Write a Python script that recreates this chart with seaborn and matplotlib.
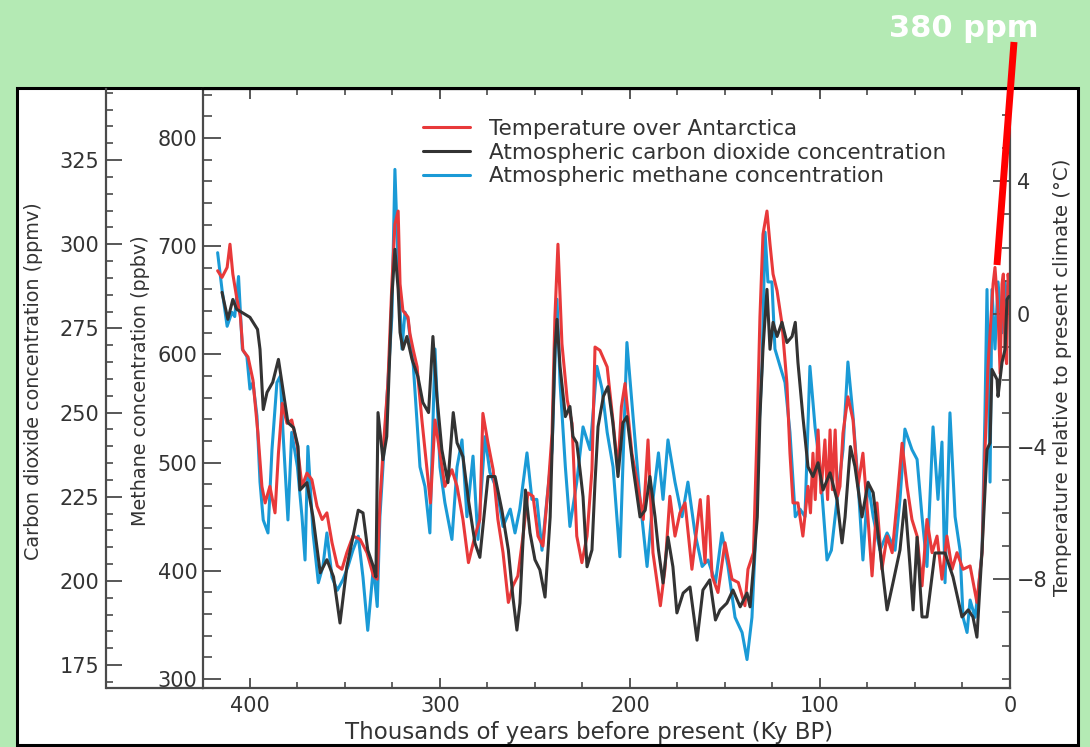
import matplotlib
matplotlib.use("Agg")
import matplotlib.pyplot as plt
import seaborn as sns
import pandas as pd
from matplotlib.patches import Rectangle
from matplotlib.lines import Line2D
from matplotlib.ticker import MultipleLocator

# ---------------- data ----------------
temp_age = [417, 414.7, 412, 410.5, 409, 407, 405, 403.7, 401, 398.4, 395.8, 393.7, 392, 389.5, 386.8,
            385, 383, 380.5, 378, 375, 372.6, 370, 367.4, 364.7, 362, 359.5, 356.8, 354, 351.6, 349,
            345.8, 342, 338.4, 335, 333, 331.6, 330, 327.4, 325.3, 323.7, 322, 321, 319.5, 316.8, 315.8,
            314, 312, 311.6, 309.5, 306.8, 305, 302.6, 300, 297.4, 293.7, 291, 287.9, 285, 281.6, 279,
            277.4, 274.7, 272, 269.5, 266.8, 264, 261.6, 259, 256.3, 253.7, 251, 248.4, 245.8, 243, 241,
            239.5, 237.9, 235.8, 233, 230.5, 228, 225.3, 222.6, 220, 218.4, 215.8, 212, 209, 206.3, 204.5,
            202.6, 199, 195.8, 193, 190.5, 187.9, 184, 181.6, 179, 176.3, 173.7, 171, 167.4, 163, 160.5,
            158.9, 156.8, 153.7, 150, 146.3, 143, 139.5, 137.9, 135, 133, 131.6, 130, 127.9, 126.3, 124.7,
            122.6, 120, 117.4, 115.8, 114.2, 111.6, 109, 106.3, 105, 103.7, 102.5, 101, 99.5, 97.4, 96,
            94.7, 93.5, 92, 90.8, 89.5, 87.9, 85.3, 82.6, 80, 77.4, 74.7, 72.6, 70, 67.4, 64.7, 62, 59.5,
            56.8, 54.2, 51.6, 48.9, 46.3, 43.7, 41, 38.4, 35.8, 33.2, 30.5, 27.9, 24.7, 21, 17.4, 14.7,
            13.2, 11.6, 8.9, 7.9, 6.3, 5.2, 4.2, 3.5, 2.6, 1.8, 1.0, 0.3]
temp_val = [1.3, 1.1, 1.4, 2.1, 1.2, 0.5, -0.1, -1.1, -1.3, -2.0, -3.6, -5.2, -5.7, -5.2, -6.0,
            -4.2, -2.7, -3.3, -3.2, -4.0, -5.2, -4.8, -5.0, -5.8, -6.2, -6.0, -6.9, -7.6, -7.7, -7.2,
            -6.7, -6.8, -7.2, -7.9, -8.0, -5.7, -4.2, -2.1, 0.9, 2.7, 3.1, 0.9, 0.1, -0.1, -0.6,
            -1.1, -1.6, -1.9, -3.2, -4.7, -5.7, -3.2, -4.2, -5.2, -4.7, -5.2, -6.2, -7.5, -6.7, -6.2,
            -3.0, -3.9, -4.7, -6.2, -7.2, -8.7, -8.2, -7.9, -6.7, -5.4, -5.5, -6.7, -7.0, -5.2, -3.6,
            -0.1, 2.1, -0.9, -2.6, -3.3, -6.7, -7.5, -6.7, -4.7, -1.0, -1.1, -1.6, -3.2, -4.7, -2.8,
            -2.1, -4.2, -5.2, -6.2, -3.8, -7.2, -8.8, -7.7, -5.5, -6.7, -6.0, -5.7, -7.7, -5.6, -7.5,
            -5.5, -7.9, -8.4, -6.9, -8.0, -8.1, -8.8, -7.7, -7.2, -3.3, -0.1, 2.4, 3.1, 2.1, 1.2,
            0.7, -0.3, -2.1, -4.2, -5.7, -5.7, -6.7, -5.2, -6.0, -4.2, -5.6, -3.5, -5.4, -3.8, -5.6,
            -3.5, -5.3, -3.5, -5.5, -5.2, -3.6, -2.5, -3.2, -5.2, -4.2, -6.2, -7.9, -5.7, -7.7, -6.7, -7.2, -5.7,
            -3.9, -5.2, -6.2, -6.7, -8.2, -6.2, -7.2, -6.7, -8.0, -6.7, -7.7, -7.2, -7.7, -7.6, -8.7, -7.2,
            -4.2, -1.6, 0.9, 1.4, 0.1, -1.8, 0.9, 1.2, -1.1, -1.5, 1.2, 0.8]

co2_age = [414.7, 411.6, 409, 407, 400, 396, 394.7, 393, 391, 388, 385, 382.6, 380, 377, 374.7,
           373.7, 370, 366.8, 363, 359.5, 356, 352.6, 349, 345.8, 343, 340.5, 338, 335, 333.7, 332.6,
           330, 328, 325.3, 323.7, 322, 321, 319.5, 317.4, 314.7, 311.6, 309, 306, 303.7, 301.6, 299,
           295.8, 293, 291, 287.9, 285, 281.6, 279, 274.7, 271, 267.4, 264, 261.6, 259.5, 257.9, 255,
           252.6, 250, 247.4, 244.7, 242, 239.5, 238.4, 236.8, 234, 231.6, 230, 228, 226.3, 224.7, 222.6,
           220, 218.4, 216.8, 214, 211.6, 209, 206.3, 203.7, 201.6, 198.4, 194.7, 192, 189.5, 186.8, 185,
           182.6, 180, 177.4, 175.3, 172, 168.4, 164.7, 161.6, 158, 155, 152.6, 149, 145.8, 142, 138.4,
           136.8, 135, 133, 131.6, 130, 127.9, 126.3, 124.7, 122.6, 120, 117.4, 114.7, 113, 111.6, 109,
           106.3, 103.7, 101, 98.4, 94.7, 91, 88.4, 86.8, 84, 81.6, 77.9, 74.7, 72, 68.4, 64.7, 61.6,
           57.9, 55.3, 52.6, 51, 48.9, 46.3, 43.7, 39.5, 34.2, 30, 25.3, 22, 19.5, 17.4, 14.7, 12.1,
           10.5, 9.5, 6.8, 6.3, 4.2, 2.6, 1.6, 0.5]
co2_val = [285.7, 277.7, 283.6, 280.7, 278.3, 274.7, 268.8, 250.9, 256, 259, 265.8, 256.8, 247, 245.5, 239.9,
           227, 229.2, 219, 202.4, 206.3, 201.2, 187.5, 204.2, 213, 221, 220.2, 209.2, 204.2, 201.2, 250,
           236, 242.9, 284.5, 298.5, 286.6, 273.8, 268.8, 272.6, 265.8, 260.7, 253, 250, 272.6, 254.8, 239,
           229.2, 250, 241, 236.9, 224, 211.3, 207, 231, 231, 221, 209.2, 195.2, 185.4, 193.4, 227,
           214.3, 206.3, 203.3, 195.2, 219, 268.8, 277.7, 263.7, 248.8, 251.8, 242.9, 241, 233, 225, 204.2,
           209.2, 229.2, 245.8, 254.8, 257.7, 247, 231, 247, 248.8, 233.9, 219, 221, 231, 219, 209.2,
           199.4, 213, 204.2, 190.5, 196.4, 198.2, 182.4, 197.3, 200.3, 188.4, 191.4, 193.4, 197.3, 192.3, 196.4,
           192.3, 204.2, 219, 248.8, 268.8, 286.6, 268.8, 276.8, 272.6, 276.8, 270.8, 272.6, 276.8, 264.9, 248.8,
           233.9, 231, 235.1, 227, 232.1, 224, 211.3, 219, 239.9, 234, 219, 229.2, 226.2, 209.2, 191.4, 199.4,
           209.2, 224, 204.2, 191.4, 213, 189.3, 189.3, 208.3, 208.3, 201.2, 189.3, 191.4, 189.3, 183.3, 209.2, 239,
           241, 262.8, 259.8, 254.8, 264.9, 268.8, 283.6, 284.5]

ch4_age = [417, 414.7, 412, 409.5, 408, 406, 404, 401.6, 400, 398.4, 396.3, 394.7, 393, 390.5, 388.4,
           385.8, 384, 382.6, 380, 378, 375, 372.6, 371, 369.5, 366.8, 364, 361.6, 359.5, 356.8, 354,
           351, 348.4, 345.8, 343, 340.5, 338, 335, 333, 331.6, 330, 327.4, 325.3, 323.7, 322, 320,
           318.4, 316.8, 314, 310.5, 307.9, 305.3, 302.6, 300, 297.4, 293.7, 291, 288.4, 285.8, 282.6, 280,
           276.3, 273.7, 270, 266.8, 263, 260.5, 258, 254.2, 251.6, 249, 246.3, 243.7, 241, 238.4, 236.8,
           234, 231.6, 228, 224.7, 221, 217.4, 214.7, 212, 208.9, 205.3, 201.6, 198.4, 194.7, 191, 187.9,
           185, 182.6, 180, 176.3, 172.6, 169.5, 165.8, 162, 158.9, 155, 151.6, 148.4, 144.7, 141, 138.4,
           135.8, 134.2, 132.6, 130.5, 128.9, 127.4, 125.3, 123.7, 121, 118.4, 115.8, 113, 110.5, 107.9, 105.3,
           102.6, 100, 96.3, 94, 91, 87.9, 85.3, 82.6, 80, 77.4, 74.7, 72, 68.4, 64.7, 60.5,
           57.9, 55.3, 51.6, 48.9, 46.3, 43.7, 40.5, 37.9, 35.8, 34.2, 31.6, 28.9, 26.3, 24.7, 22.6,
           21, 18.4, 16.8, 14.7, 13.2, 12.1, 10.5, 9.5, 7.9, 6.3, 4.2, 2.6, 1.0]
ch4_val = [694, 660, 626, 639, 635, 672, 605, 598, 568, 574, 543, 482, 447, 435, 512,
           574, 580, 528, 447, 528, 496, 450, 410, 515, 435, 389, 404, 435, 394, 382,
           392, 404, 419, 432, 394, 345, 404, 367, 450, 496, 574, 635, 771, 682, 605,
           639, 632, 589, 496, 478, 435, 605, 496, 463, 429, 496, 521, 450, 506, 429,
           524, 491, 475, 441, 457, 435, 457, 509, 466, 466, 419, 466, 512, 651, 574,
           496, 441, 482, 533, 512, 589, 568, 528, 496, 413, 611, 543, 466, 404, 466,
           509, 466, 521, 482, 450, 482, 435, 404, 410, 389, 435, 404, 357, 343, 318,
           357, 419, 512, 589, 713, 667, 667, 605, 589, 574, 528, 450, 457, 450, 589,
           533, 496, 410, 419, 466, 512, 593, 543, 482, 410, 482, 450, 419, 435, 419,
           466, 531, 512, 503, 450, 404, 533, 466, 519, 389, 546, 450, 419, 357, 343,
           373, 357, 380, 419, 543, 660, 482, 660, 605, 667, 620, 667, 640]

labels = ["Temperature over Antarctica",
          "Atmospheric carbon dioxide concentration",
          "Atmospheric methane concentration"]
x_ticks = [0, 100, 200, 300, 400]
annotation = "380 ppm"

# ---------------- styling ----------------
sns.set_style("ticks")
plt.rcParams["font.family"] = ["DejaVu Sans"]

RED, BLACK, BLUE = "#e8393a", "#333333", "#1a9ad6"
GRAY = "#333333"
SPINE = "#4a4a4a"
W, H = 1090, 747


def fx(px):
    return px / W


def fy(py):
    return 1 - py / H


fig = plt.figure(figsize=(W / 100, H / 100), dpi=100, facecolor="#b4eab4")
fig.add_artist(Rectangle((fx(17), fy(745)), fx(1078) - fx(17), fy(88) - fy(745),
                         transform=fig.transFigure, facecolor="white",
                         edgecolor="black", lw=2.2, zorder=-5))

ax = fig.add_axes([fx(203), fy(688), fx(1010) - fx(203), fy(89) - fy(688)])
ax.set_facecolor("none")
ax_t = ax.twinx()
ax_c = ax.twinx()

df_t = pd.DataFrame({"age": temp_age, "val": temp_val})
df_c = pd.DataFrame({"age": co2_age, "val": co2_val})
df_m = pd.DataFrame({"age": ch4_age, "val": ch4_val})

LW = 2.2
sns.lineplot(data=df_m, x="age", y="val", ax=ax, color=BLUE, lw=LW,
             estimator=None, sort=False, legend=False)
sns.lineplot(data=df_t, x="age", y="val", ax=ax_t, color=RED, lw=LW,
             estimator=None, sort=False, legend=False)
sns.lineplot(data=df_c, x="age", y="val", ax=ax_c, color=BLACK, lw=LW,
             estimator=None, sort=False, legend=False)

ax.set_xlim(424.7, 0)
ax.set_ylim(291.7, 845.3)
ax_c.set_ylim(168.2, 346.1)
ax_t.set_ylim(-11.28, 6.78)

# spines
for a in (ax, ax_t, ax_c):
    for s in a.spines.values():
        s.set_color(SPINE)
        s.set_linewidth(1.6)
ax.spines["right"].set_visible(False)
ax.spines["top"].set_color("black")
for s in ("top", "bottom", "left"):
    ax_t.spines[s].set_visible(False)
for s in ("top", "bottom", "right"):
    ax_c.spines[s].set_visible(False)
ax_c.yaxis.tick_left()
ax_c.yaxis.set_label_position("left")
ax_c.spines["left"].set_position(("outward", 97 * 0.72))
fig.add_artist(Line2D([fx(106), fx(203)], [fy(688), fy(688)], color=SPINE, lw=1.6,
                      transform=fig.transFigure))

# x ticks
ax.xaxis.set_major_locator(plt.FixedLocator(x_ticks))
ax.xaxis.set_minor_locator(MultipleLocator(25))
ax.tick_params(axis="x", which="both", direction="in", top=True, bottom=True,
               color=SPINE, labelcolor=GRAY, labelsize=15, pad=6)
ax.tick_params(axis="x", which="major", length=7.5, width=1.3)
ax.tick_params(axis="x", which="minor", length=4, width=1.2)

# methane axis
ax.yaxis.set_major_locator(MultipleLocator(100))
ax.yaxis.set_minor_locator(MultipleLocator(20))
ax.tick_params(axis="y", which="both", direction="in", left=True, right=False,
               color=SPINE, labelcolor=GRAY, labelsize=15, pad=4)
ax.tick_params(axis="y", which="major", length=13, width=1.3)
ax.tick_params(axis="y", which="minor", length=6.5, width=1.2)

# CO2 axis
ax_c.yaxis.set_major_locator(MultipleLocator(25))
ax_c.yaxis.set_minor_locator(MultipleLocator(5))
ax_c.tick_params(axis="y", which="both", direction="in", left=True, right=False,
                 color=SPINE, labelcolor=GRAY, labelsize=15, pad=5)
ax_c.tick_params(axis="y", which="major", length=11.5, width=1.3)
ax_c.tick_params(axis="y", which="minor", length=5, width=1.2)

# temperature axis
ax_t.yaxis.set_major_locator(MultipleLocator(4))
ax_t.yaxis.set_minor_locator(MultipleLocator(1))
ax_t.tick_params(axis="y", which="both", direction="in", right=True, left=False,
                 color=SPINE, labelcolor=GRAY, labelsize=15, pad=5)
ax_t.tick_params(axis="y", which="major", length=12, width=1.3)
ax_t.tick_params(axis="y", which="minor", length=6, width=1.2)

# axis labels
AXW, AXH = 807, 599
ax.set_xlabel("Thousands of years before present (Ky BP)", fontsize=16.5, color=GRAY)
ax.xaxis.set_label_coords((589 - 203) / AXW, (688 - 733) / AXH)
ax.xaxis.label.set_va("center")
ax.set_ylabel("Methane concentration (ppbv)", fontsize=13.8, color=GRAY)
ax.yaxis.set_label_coords((140 - 203) / AXW, (688 - 381) / AXH)
ax.yaxis.label.set_va("center")
ax_c.set_ylabel("Carbon dioxide concentration (ppmv)", fontsize=13.8, color=GRAY)
ax_c.yaxis.set_label_coords((34 - 203) / AXW, (688 - 381) / AXH)
ax_c.yaxis.label.set_va("center")
ax_t.set_ylabel("Temperature relative to present climate (°C)", fontsize=14.2, color=GRAY)
ax_t.yaxis.set_label_coords((1062 - 203) / AXW, (688 - 377) / AXH)
ax_t.yaxis.label.set_va("center")

# legend
handles = [Line2D([], [], color=RED, lw=LW),
           Line2D([], [], color=BLACK, lw=LW),
           Line2D([], [], color=BLUE, lw=LW)]
leg = ax_c.legend(handles, labels, loc="upper left",
                  bbox_to_anchor=(fx(423), fy(119)), bbox_transform=fig.transFigure,
                  frameon=False, fontsize=15.5, handlelength=2.2, handletextpad=0.85,
                  labelspacing=0.17, borderpad=0, borderaxespad=0)
for t in leg.get_texts():
    t.set_color(GRAY)

# annotation
fig.text(fx(964), fy(37), annotation, color="white", fontsize=22,
         fontweight="bold", ha="center", va="baseline")
fig.add_artist(Line2D([fx(1014), fx(997)], [fy(42), fy(265)], color="#ff0000", lw=5,
                      solid_capstyle="butt", transform=fig.transFigure, zorder=10))

fig.savefig("out.png", dpi=100, facecolor=fig.get_facecolor())
